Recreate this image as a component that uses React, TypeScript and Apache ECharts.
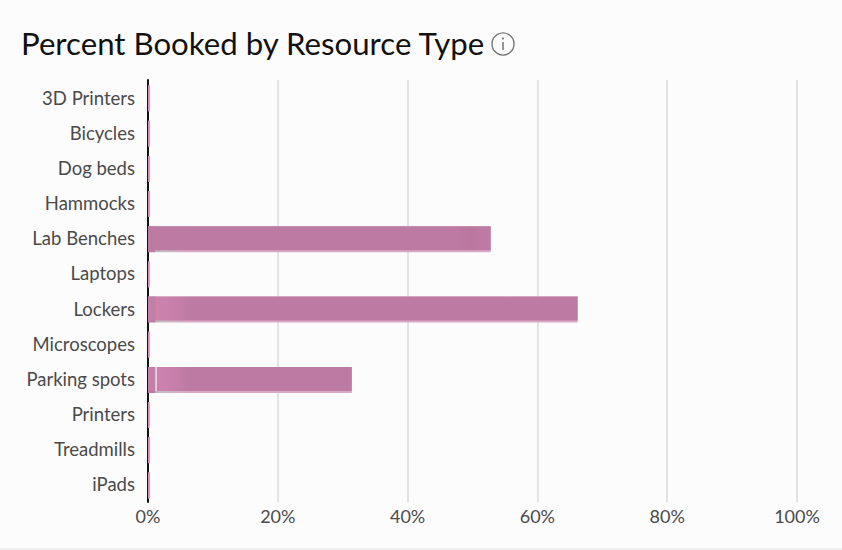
import React, { useEffect, useRef } from "react";
import * as echarts from "echarts";

const titleText = "Percent Booked by Resource Type";
const categories = ["3D Printers", "Bicycles", "Dog beds", "Hammocks", "Lab Benches", "Laptops", "Lockers", "Microscopes", "Parking spots", "Printers", "Treadmills", "iPads"];
const percentBooked = [0.3, 0.3, 0.3, 0.3, 52.8, 0.25, 66.2, 0.25, 31.4, 0.25, 0.3, 0.3];
const xTicks = [0, 20, 40, 60, 80, 100];

const FONT = "Lato";
const BASE = "#bd7aa3";
const EDGE = "#d7a9c5";

function fillFor(value: number) {
  if (value < 1) return "#d98fb9";
  if (value > 60) {
    return new echarts.graphic.LinearGradient(0, 0, 1, 0, [
      { offset: 0, color: "#c27fa8" },
      { offset: 0.017, color: "#c27fa8" },
      { offset: 0.018, color: "#cd82ae" },
      { offset: 0.06, color: "#c880ab" },
      { offset: 0.1, color: BASE },
      { offset: 1, color: BASE },
    ]);
  }
  if (value > 40) {
    return new echarts.graphic.LinearGradient(0, 0, 1, 0, [
      { offset: 0, color: BASE },
      { offset: 0.9, color: BASE },
      { offset: 0.94, color: "#ba769e" },
      { offset: 0.97, color: BASE },
      { offset: 1, color: BASE },
    ]);
  }
  return new echarts.graphic.LinearGradient(0, 0, 1, 0, [
    { offset: 0, color: "#c27fa8" },
    { offset: 0.036, color: "#c27fa8" },
    { offset: 0.037, color: "#e8cfdf" },
    { offset: 0.042, color: "#e8cfdf" },
    { offset: 0.043, color: "#cd82ae" },
    { offset: 0.12, color: "#c880ab" },
    { offset: 0.2, color: BASE },
    { offset: 1, color: BASE },
  ]);
}

function edgeFor(value: number) {
  if (value < 1) return "#d98fb9";
  const start = 7.5 / (value * 6.5);
  return new echarts.graphic.LinearGradient(0, 0, 1, 0, [
    { offset: 0, color: BASE },
    { offset: start - 0.001, color: BASE },
    { offset: start, color: "#b9b4b7" },
    { offset: start * 2, color: "#c8bcc4" },
    { offset: start * 5, color: EDGE },
    { offset: 1, color: EDGE },
  ]);
}

export default function App() {
  const ref = useRef<HTMLDivElement>(null);
  useEffect(() => {
    document.body.style.margin = "0";
    const chart = echarts.init(ref.current!, null, { renderer: "svg" });
    chart.setOption({
      animation: false,
      backgroundColor: "#fcfcfc",
      grid: { left: 148, right: 45, top: 80, bottom: 48, containLabel: false },
      title: {
        text: titleText,
        left: 21,
        top: 27,
        padding: 0,
        textStyle: { fontFamily: FONT, fontSize: 31.2, fontWeight: 400, color: "#111111" },
      },
      xAxis: {
        type: "value",
        min: 0,
        max: 100,
        interval: 20,
        axisLine: { show: false },
        axisTick: { show: false },
        splitLine: { lineStyle: { color: "#e2e2e2", width: 2 } },
        axisLabel: {
          fontFamily: FONT,
          fontSize: 18,
          color: "#4a4a4a",
          margin: 5,
          hideOverlap: false,
          customValues: xTicks,
          formatter: (v: number) => `${v}%`,
        },
      },
      yAxis: {
        type: "category",
        inverse: true,
        data: categories,
        offset: 2,
        axisLine: { lineStyle: { color: "#111111", width: 2 } },
        axisTick: { show: false },
        axisLabel: { fontFamily: FONT, fontSize: 18.5, color: "#4a4a4a", margin: 11, padding: [0, 0, 2, 0] },
      },
      series: [
        {
          type: "bar",
          barWidth: 26,
          barGap: "-100%",
          data: percentBooked.map((value) => ({ value, itemStyle: { color: edgeFor(value) } })),
        },
        {
          type: "bar",
          barWidth: 24,
          data: percentBooked.map((value) => ({ value, itemStyle: { color: fillFor(value) } })),
        },
      ],
      graphic: [
        { type: "rect", silent: true, shape: { x: 0, y: 548, width: 842, height: 2 }, style: { fill: "#f1f1f1" } },
        { type: "circle", silent: true, shape: { cx: 503, cy: 44, r: 11 }, style: { fill: "none", stroke: "#777777", lineWidth: 1.4 } },
        { type: "circle", silent: true, shape: { cx: 503, cy: 38.5, r: 1.1 }, style: { fill: "#777777" } },
        { type: "rect", silent: true, shape: { x: 502.3, y: 42, width: 1.5, height: 8 }, style: { fill: "#777777" } },
      ],
    });
    return () => chart.dispose();
  }, []);
  return <div ref={ref} style={{ width: 842, height: 550 }} />;
}
